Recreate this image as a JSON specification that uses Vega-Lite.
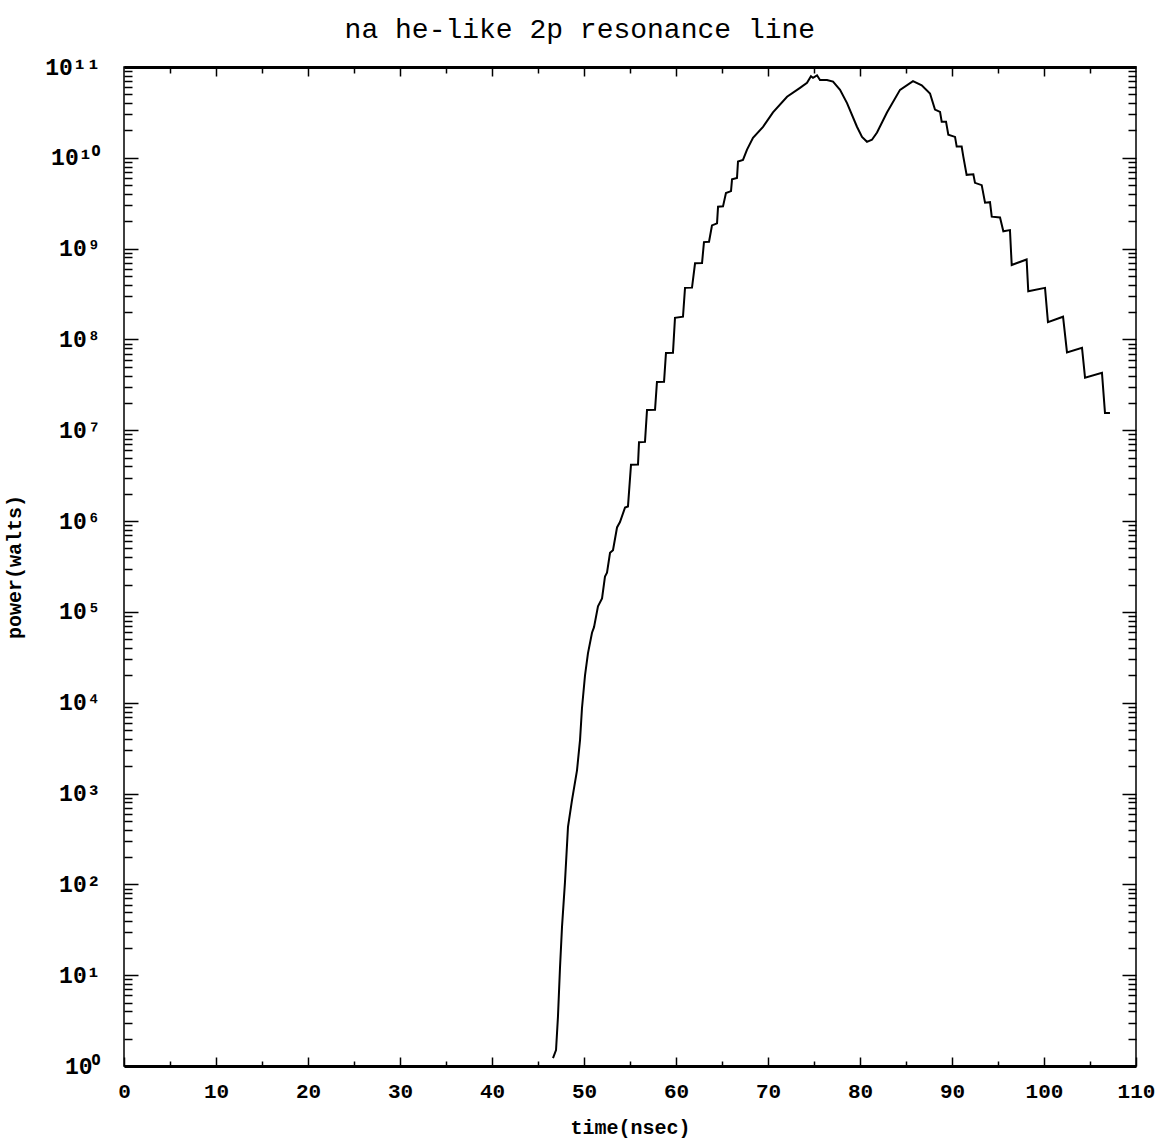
{
  "$schema": "https://vega.github.io/schema/vega-lite/v6.json",
  "width": 1012,
  "height": 999,
  "autosize": {"type": "none"},
  "padding": {"left": 124, "top": 67, "right": 26, "bottom": 79},
  "background": "white",
  "config": {
    "view": {"stroke": "black", "strokeWidth": 1.5},
    "axis": {"grid": false, "domain": false, "tickColor": "black", "labelColor": "black", "titleColor": "black", "labelFont": "Liberation Mono", "titleFont": "Liberation Mono"}
  },
  "title": {"text": "na he-like 2p resonance line", "font": "Liberation Mono", "fontSize": 28, "fontWeight": "normal", "color": "black", "frame": "bounds", "offset": 12},
  "data": {"values": [
    {"time": 46.63, "power": 1.22},
    {"time": 46.96, "power": 1.5},
    {"time": 47.17, "power": 3.5},
    {"time": 47.39, "power": 12},
    {"time": 47.61, "power": 34},
    {"time": 47.93, "power": 105},
    {"time": 48.26, "power": 430},
    {"time": 48.70, "power": 850},
    {"time": 49.24, "power": 1800},
    {"time": 49.57, "power": 3900},
    {"time": 49.78, "power": 8700},
    {"time": 50.11, "power": 20000},
    {"time": 50.43, "power": 35000},
    {"time": 50.87, "power": 59000},
    {"time": 51.09, "power": 68000},
    {"time": 51.52, "power": 115000},
    {"time": 51.96, "power": 141000},
    {"time": 52.28, "power": 245000},
    {"time": 52.50, "power": 270000},
    {"time": 52.83, "power": 447000},
    {"time": 53.15, "power": 479000},
    {"time": 53.59, "power": 851000},
    {"time": 53.91, "power": 977000},
    {"time": 54.46, "power": 1410000},
    {"time": 54.78, "power": 1450000},
    {"time": 55.11, "power": 4170000},
    {"time": 55.87, "power": 4200000},
    {"time": 55.98, "power": 7400000},
    {"time": 56.63, "power": 7450000},
    {"time": 56.85, "power": 16700000},
    {"time": 57.72, "power": 16800000},
    {"time": 57.93, "power": 34000000},
    {"time": 58.70, "power": 34200000},
    {"time": 58.91, "power": 71000000},
    {"time": 59.67, "power": 71500000},
    {"time": 59.89, "power": 173000000},
    {"time": 60.76, "power": 178000000},
    {"time": 60.98, "power": 370000000},
    {"time": 61.74, "power": 372000000},
    {"time": 62.07, "power": 690000000},
    {"time": 62.83, "power": 695000000},
    {"time": 63.04, "power": 1180000000},
    {"time": 63.59, "power": 1190000000},
    {"time": 63.91, "power": 1800000000},
    {"time": 64.46, "power": 1900000000},
    {"time": 64.57, "power": 2900000000},
    {"time": 65.11, "power": 2920000000},
    {"time": 65.43, "power": 4100000000},
    {"time": 65.98, "power": 4300000000},
    {"time": 66.09, "power": 5800000000},
    {"time": 66.63, "power": 6000000000},
    {"time": 66.74, "power": 9100000000},
    {"time": 67.28, "power": 9500000000},
    {"time": 67.72, "power": 12300000000},
    {"time": 68.37, "power": 16600000000},
    {"time": 69.46, "power": 21900000000},
    {"time": 70.54, "power": 31600000000},
    {"time": 72.07, "power": 47000000000},
    {"time": 73.48, "power": 59000000000},
    {"time": 74.24, "power": 67000000000},
    {"time": 74.67, "power": 79000000000},
    {"time": 74.89, "power": 76000000000},
    {"time": 75.33, "power": 81000000000},
    {"time": 75.65, "power": 72000000000},
    {"time": 76.41, "power": 72000000000},
    {"time": 77.07, "power": 69000000000},
    {"time": 77.83, "power": 56000000000},
    {"time": 78.59, "power": 40000000000},
    {"time": 79.67, "power": 22000000000},
    {"time": 80.22, "power": 17000000000},
    {"time": 80.76, "power": 15000000000},
    {"time": 81.30, "power": 15800000000},
    {"time": 81.85, "power": 19000000000},
    {"time": 82.93, "power": 31600000000},
    {"time": 84.35, "power": 56000000000},
    {"time": 85.76, "power": 70000000000},
    {"time": 86.71, "power": 63000000000},
    {"time": 87.61, "power": 51000000000},
    {"time": 88.15, "power": 34000000000},
    {"time": 88.70, "power": 32000000000},
    {"time": 88.88, "power": 25000000000},
    {"time": 89.35, "power": 25000000000},
    {"time": 89.60, "power": 18000000000},
    {"time": 90.33, "power": 17000000000},
    {"time": 90.51, "power": 13300000000},
    {"time": 91.05, "power": 13300000000},
    {"time": 91.23, "power": 10300000000},
    {"time": 91.59, "power": 6500000000},
    {"time": 92.32, "power": 6600000000},
    {"time": 92.50, "power": 5300000000},
    {"time": 93.23, "power": 5000000000},
    {"time": 93.59, "power": 3200000000},
    {"time": 94.13, "power": 3250000000},
    {"time": 94.32, "power": 2250000000},
    {"time": 95.22, "power": 2200000000},
    {"time": 95.58, "power": 1550000000},
    {"time": 96.30, "power": 1600000000},
    {"time": 96.49, "power": 660000000},
    {"time": 98.11, "power": 760000000},
    {"time": 98.29, "power": 340000000},
    {"time": 100.11, "power": 370000000},
    {"time": 100.43, "power": 155000000},
    {"time": 102.07, "power": 178000000},
    {"time": 102.50, "power": 72000000},
    {"time": 104.13, "power": 81000000},
    {"time": 104.46, "power": 38000000},
    {"time": 106.30, "power": 43000000},
    {"time": 106.63, "power": 15500000},
    {"time": 107.17, "power": 15500000}
  ]},
  "layer": [
    {
      "mark": {"type": "line", "color": "black", "strokeWidth": 2},
      "encoding": {
        "x": {"field": "time", "type": "quantitative", "scale": {"domain": [0, 110], "nice": false, "zero": false},
          "axis": {"orient": "bottom", "values": [0, 10, 20, 30, 40, 50, 60, 70, 80, 90, 100, 110], "tickSize": -9, "tickWidth": 1.5, "labelFontSize": 21, "labelFontWeight": "bold", "labelPadding": 23, "labelFlush": false, "title": "time(nsec)", "titleFontSize": 20, "titleFontWeight": "bold", "titlePadding": 16, "domain": true, "domainWidth": 3, "domainColor": "black"}},
        "y": {"field": "power", "type": "quantitative", "scale": {"type": "log", "domain": [1, 100000000000], "nice": false},
          "axis": {"orient": "left", "values": [1, 10, 100, 1000, 10000, 100000, 1000000, 10000000, 100000000, 1000000000, 10000000000, 100000000000], "labelExpr": "['10⁰','10¹','10²','10³','10⁴','10⁵','10⁶','10⁷','10⁸','10⁹','10¹⁰','10¹¹'][round(log(datum.value)/LN10)]", "tickSize": -14, "tickWidth": 1.5, "labelFontSize": 23, "labelFontWeight": "bold", "labelPadding": 38, "labelFlush": false, "title": "power(walts)", "titleFontSize": 20, "titleFontWeight": "bold", "titlePadding": 20}}
      }
    },
    {
      "mark": {"type": "line", "opacity": 0},
      "encoding": {
        "x": {"field": "time", "type": "quantitative", "scale": {"domain": [0, 110], "nice": false, "zero": false},
          "axis": {"orient": "bottom", "values": [5, 15, 25, 35, 45, 55, 65, 75, 85, 95, 105], "tickSize": -5, "tickWidth": 1.5, "labels": false, "title": null, "domain": false}},
        "y": {"field": "power", "type": "quantitative", "scale": {"type": "log", "domain": [1, 100000000000], "nice": false},
          "axis": {"orient": "left", "values": [2,3,4,5,6,7,8,9,20,30,40,50,60,70,80,90,200,300,400,500,600,700,800,900,2e3,3e3,4e3,5e3,6e3,7e3,8e3,9e3,2e4,3e4,4e4,5e4,6e4,7e4,8e4,9e4,2e5,3e5,4e5,5e5,6e5,7e5,8e5,9e5,2e6,3e6,4e6,5e6,6e6,7e6,8e6,9e6,2e7,3e7,4e7,5e7,6e7,7e7,8e7,9e7,2e8,3e8,4e8,5e8,6e8,7e8,8e8,9e8,2e9,3e9,4e9,5e9,6e9,7e9,8e9,9e9,2e10,3e10,4e10,5e10,6e10,7e10,8e10,9e10], "tickSize": -8, "tickWidth": 1.5, "labels": false, "title": null}}
      }
    },
    {
      "mark": {"type": "line", "opacity": 0},
      "encoding": {
        "x": {"field": "time", "type": "quantitative", "scale": {"domain": [0, 110], "nice": false, "zero": false},
          "axis": {"orient": "top", "values": [10, 20, 30, 40, 50, 60, 70, 80, 90, 100], "tickSize": -9, "tickWidth": 1.5, "labels": false, "title": null, "domain": true, "domainWidth": 3, "domainColor": "black"}},
        "y": {"field": "power", "type": "quantitative", "scale": {"type": "log", "domain": [1, 100000000000], "nice": false},
          "axis": {"orient": "right", "values": [10, 100, 1000, 10000, 100000, 1000000, 10000000, 100000000, 1000000000, 10000000000], "tickSize": -14, "tickWidth": 1.5, "labels": false, "title": null}}
      }
    },
    {
      "mark": {"type": "line", "opacity": 0},
      "encoding": {
        "x": {"field": "time", "type": "quantitative", "scale": {"domain": [0, 110], "nice": false, "zero": false},
          "axis": {"orient": "top", "values": [5, 15, 25, 35, 45, 55, 65, 75, 85, 95, 105], "tickSize": -6, "tickWidth": 1.5, "labels": false, "title": null, "domain": false}},
        "y": {"field": "power", "type": "quantitative", "scale": {"type": "log", "domain": [1, 100000000000], "nice": false},
          "axis": {"orient": "right", "values": [2,3,4,5,6,7,8,9,20,30,40,50,60,70,80,90,200,300,400,500,600,700,800,900,2e3,3e3,4e3,5e3,6e3,7e3,8e3,9e3,2e4,3e4,4e4,5e4,6e4,7e4,8e4,9e4,2e5,3e5,4e5,5e5,6e5,7e5,8e5,9e5,2e6,3e6,4e6,5e6,6e6,7e6,8e6,9e6,2e7,3e7,4e7,5e7,6e7,7e7,8e7,9e7,2e8,3e8,4e8,5e8,6e8,7e8,8e8,9e8,2e9,3e9,4e9,5e9,6e9,7e9,8e9,9e9,2e10,3e10,4e10,5e10,6e10,7e10,8e10,9e10], "tickSize": -8, "tickWidth": 1.5, "labels": false, "title": null}}
      }
    }
  ],
  "resolve": {"axis": {"x": "independent", "y": "independent"}}
}
